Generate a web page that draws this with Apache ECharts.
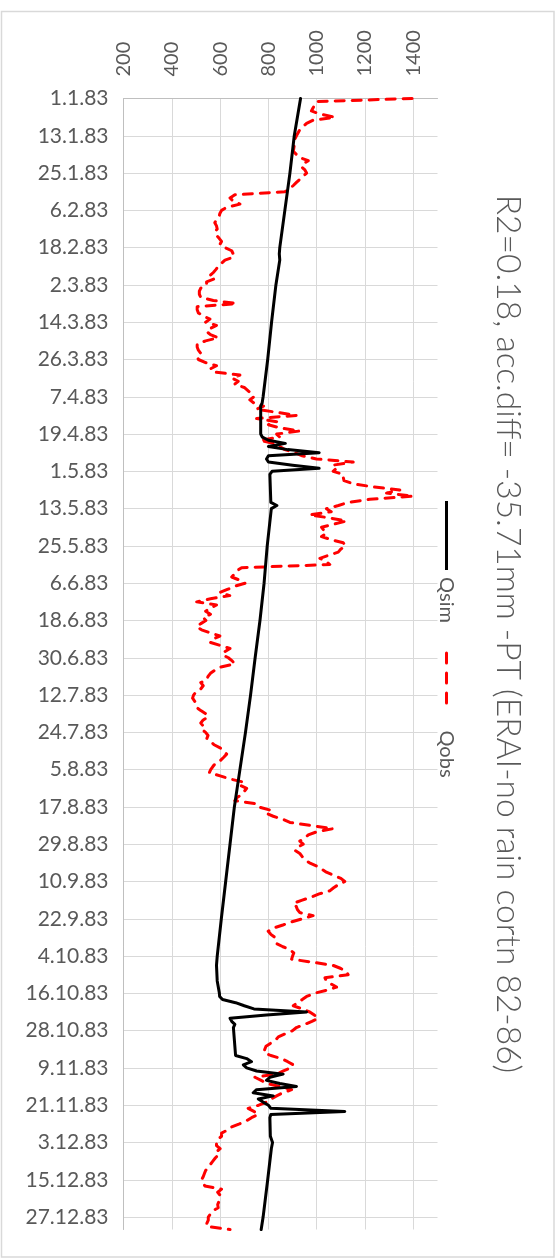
<!DOCTYPE html>
<html>
<head>
<meta charset="utf-8">
<script src="https://cdn.jsdelivr.net/npm/echarts@6/dist/echarts.min.js"></script>
<style>
  html, body { margin: 0; padding: 0; background: #ffffff; }
  #chart { width: 559px; height: 1259px; }
</style>
</head>
<body>
<div id="chart"></div>
<script>
// Date tick labels, one every 12 days through 1983
const dateLabels = ['1.1.83', '13.1.83', '25.1.83', '6.2.83', '18.2.83', '2.3.83', '14.3.83', '26.3.83',
  '7.4.83', '19.4.83', '1.5.83', '13.5.83', '25.5.83', '6.6.83', '18.6.83', '30.6.83', '12.7.83',
  '24.7.83', '5.8.83', '17.8.83', '29.8.83', '10.9.83', '22.9.83', '4.10.83', '16.10.83', '28.10.83',
  '9.11.83', '21.11.83', '3.12.83', '15.12.83', '27.12.83'];

// Value axis ticks
const valueTicks = [200, 400, 600, 800, 1000, 1200, 1400];

// Simulated discharge: day of year and value
const simDay = [0, 12, 24, 36, 48, 50, 52, 60, 72, 84, 96, 98, 99, 108, 109, 110, 111, 112, 113, 114,
  115, 116, 117, 118, 119, 120, 121, 130, 131, 132, 144, 156, 168, 180, 192, 204, 216, 228, 240, 252,
  264, 276, 279, 284, 288, 289, 290, 291, 292, 293, 294, 295, 296, 297, 298, 299, 308, 309, 310, 311,
  312, 313, 314, 315, 316, 317, 318, 319, 320, 321, 322, 323, 324, 325, 326, 327, 328, 334, 336, 338,
  348, 360, 364];
const simQ = [933, 907, 889, 868, 847, 845, 847, 831, 813, 797, 778, 774, 768, 768, 775, 800, 870, 800, 880, 1010,
  800, 792, 800, 900, 1010, 815, 806, 810, 835, 812, 795, 782, 765, 745, 726, 705, 682, 659, 641, 623,
  605, 588, 585, 588, 597, 598, 610, 664, 700, 740, 958, 792, 641, 648, 661, 655, 664, 710, 730, 696,
  710, 751, 861, 806, 792, 847, 916, 751, 737, 820, 758, 778, 800, 810, 1116, 810, 806, 808, 817, 812,
  797, 778, 770];

// Observed discharge, one value per day (day 0 = 1.1.83)
const obsQ = [
  1395, 999, 992, 985, 978, 1013, 1075, 985, 958, 944,
  930, 923, 916, 910, 910, 907, 905, 903, 916, 930,
  965, 944, 937, 951, 958, 944, 930, 916, 903, 889,
  868, 661, 641, 654, 682, 627, 606, 599, 596, 585,
  578, 585, 588, 578, 585, 596, 606, 599, 620, 648,
  654, 657, 620, 606, 592, 583, 572, 558, 578, 544,
  544, 520, 514, 514, 520, 572, 668, 505, 505, 510,
  530, 558, 540, 585, 560, 544, 560, 592, 540, 505,
  505, 510, 520, 505, 510, 540, 585, 560, 572, 682,
  650, 675, 660, 700, 715, 730, 740, 723, 740, 780,
  751, 834, 916, 751, 834, 800, 847, 930, 834, 847,
  765, 820, 847, 868, 909, 940, 999, 1151, 1068, 1082,
  1068, 1110, 1110, 1113, 1151, 1234, 1344, 1289, 1399, 1220,
  1130, 1090, 1040, 1060, 971, 1054, 1123, 1070, 1020, 1030,
  1040, 1020, 1060, 1110, 1120, 1100, 1089, 1050, 1013, 1040,
  1054, 689, 670, 660, 648, 680, 703, 660, 630, 599,
  640, 560, 503, 585, 560, 540, 560, 530, 541, 520,
  503, 523, 560, 599, 570, 558, 600, 641, 620, 610,
  634, 650, 661, 600, 578, 560, 550, 544, 520, 530,
  520, 500, 490, 486, 495, 500, 503, 520, 540, 551,
  530, 520, 530, 523, 540, 550, 545, 562, 575, 600,
  615, 627, 615, 602, 580, 570, 561, 555, 600, 640,
  696, 682, 710, 700, 690, 670, 661, 751, 760, 806,
  790, 820, 860, 889, 978, 1068, 1000, 965, 950, 930,
  944, 920, 910, 930, 940, 951, 970, 999, 1020, 1040,
  1070, 1100, 1116, 1090, 1070, 1054, 1010, 978, 940, 903,
  915, 920, 930, 985, 940, 896, 860, 820, 799, 810,
  827, 830, 834, 860, 890, 905, 900, 896, 985, 1068,
  1100, 1123, 1130, 1034, 1040, 1060, 1082, 1040, 990, 958,
  940, 920, 903, 940, 971, 990, 1006, 980, 950, 916,
  900, 870, 841, 830, 810, 790, 785, 781, 810, 854,
  880, 903, 890, 860, 834, 744, 770, 792, 850, 896,
  860, 834, 810, 792, 760, 716, 740, 758, 730, 710,
  680, 648, 630, 606, 606, 590, 585, 585, 600, 585,
  592, 580, 570, 560, 551, 540, 535, 530, 523, 530,
  537, 606, 590, 600, 599, 595, 590, 592, 570, 560,
  551, 551, 545, 544, 641
];

const titleText = 'R2=0.18, acc.diff= -35.71mm -PT (ERAI-no rain cortn 82-86)';
const seriesNames = ['Qsim', 'Qobs'];

const FONT = 'Lato, "Open Sans", sans-serif';
const TEXT_COLOR = '#595959';

const chart = echarts.init(document.getElementById('chart'), null, { renderer: 'canvas' });

const lastDay = obsQ.length - 1;

chart.setOption({
  animation: false,
  backgroundColor: '#ffffff',
  grid: { left: 123.5, top: 98.5, right: 121.5, bottom: 29.5, containLabel: false },
  xAxis: {
    type: 'value',
    position: 'top',
    min: valueTicks[0],
    max: 1500,
    interval: 200,
    axisLine: { show: true, onZero: false, lineStyle: { color: '#bfbfbf', width: 1 } },
    axisTick: { show: false },
    axisLabel: {
      rotate: -90,
      margin: 22,
      color: TEXT_COLOR,
      fontSize: 20,
      fontFamily: FONT,
      showMaxLabel: false,
      formatter: v => (valueTicks.indexOf(v) >= 0 ? String(v) : '')
    },
    splitLine: { show: true, showMaxLine: false, lineStyle: { color: '#d9d9d9', width: 1 } }
  },
  yAxis: {
    type: 'value',
    inverse: true,
    min: 0,
    max: lastDay,
    interval: 12,
    axisLine: { show: true, onZero: false, lineStyle: { color: '#bfbfbf', width: 1 } },
    axisTick: { show: false },
    axisLabel: {
      margin: 15,
      color: TEXT_COLOR,
      fontSize: 21,
      fontFamily: FONT,
      showMaxLabel: false,
      formatter: v => (v % 12 === 0 && dateLabels[v / 12]) ? dateLabels[v / 12] : ''
    },
    splitLine: { show: true, showMaxLine: false, lineStyle: { color: '#d9d9d9', width: 1 } }
  },
  series: [
    {
      name: seriesNames[0],
      type: 'line',
      data: simDay.map((d, i) => [simQ[i], d]),
      showSymbol: false,
      lineStyle: { color: '#000000', width: 3, join: 'round', cap: 'round' },
      z: 3
    },
    {
      name: seriesNames[1],
      type: 'line',
      data: obsQ.map((v, i) => [v, i]),
      showSymbol: false,
      lineStyle: { color: '#ff0000', width: 3, type: [9, 8], cap: 'round', join: 'round' },
      z: 2
    }
  ],
  graphic: [
    // outer frame
    {
      type: 'rect',
      shape: { x: 1.5, y: 11.5, width: 552.5, height: 1245.5 },
      style: { fill: 'none', stroke: '#d9d9d9', lineWidth: 1.5 },
      silent: true
    },
    // rotated title
    {
      type: 'text',
      x: 508, y: 634,
      rotation: -Math.PI / 2,
      style: {
        text: titleText,
        font: '300 33.5px ' + FONT,
        fill: TEXT_COLOR,
        align: 'center',
        verticalAlign: 'middle'
      }
    },
    // legend: Qsim
    {
      type: 'line',
      shape: { x1: 446.5, y1: 501, x2: 446.5, y2: 570 },
      style: { stroke: '#000000', lineWidth: 3 }
    },
    {
      type: 'text',
      x: 446.5, y: 600,
      rotation: -Math.PI / 2,
      style: { text: seriesNames[0], font: '20px ' + FONT, fill: TEXT_COLOR, align: 'center', verticalAlign: 'middle' }
    },
    // legend: Qobs
    {
      type: 'line',
      shape: { x1: 446.5, y1: 653, x2: 446.5, y2: 711 },
      style: { stroke: '#ff0000', lineWidth: 3, lineDash: [10, 10], lineCap: 'round' }
    },
    {
      type: 'text',
      x: 446.5, y: 754,
      rotation: -Math.PI / 2,
      style: { text: seriesNames[1], font: '20px ' + FONT, fill: TEXT_COLOR, align: 'center', verticalAlign: 'middle' }
    }
  ]
});
</script>
</body>
</html>
